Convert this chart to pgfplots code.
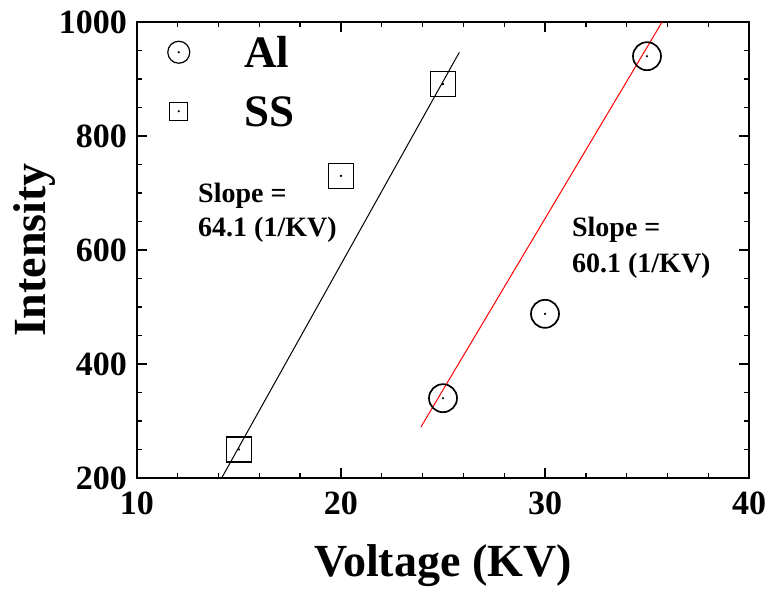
\documentclass[border=0pt]{standalone}
\usepackage{fontspec}
\setmainfont{Liberation Serif}
\usepackage{pgfplots}
\pgfplotsset{compat=1.18}
\begin{document}
\begin{tikzpicture}
\begin{axis}[
  scale only axis, width=612bp, height=456bp,
  xmin=10, xmax=40, ymin=200, ymax=1000,
  xtick={10,20,30,40}, ytick={200,400,600,800,1000},
  minor x tick num=4, minor y tick num=3,
  tick align=inside,
  major tick length=10bp, minor tick length=5bp,
  every tick/.style={black, line width=1.4bp},
  axis line style={line width=2bp},
  /pgf/number format/assume math mode=true,
  /pgf/number format/1000 sep={},
  scaled ticks=false,
  tick label style={font=\fontsize{34bp}{37bp}\selectfont\bfseries, inner sep=0pt},
  xticklabel style={anchor=north, yshift=-14bp},
  yticklabel style={anchor=east, xshift=-10bp},
  xlabel={Voltage (KV)}, ylabel={Intensity},
  label style={font=\fontsize{46bp}{50bp}\selectfont\bfseries},
  xlabel style={at={(axis description cs:0.5,-0.2171)}, anchor=base},
  ylabel style={at={(axis description cs:-0.1503,0.5)}, anchor=base},
  legend style={draw=none, fill=none, at={(axis description cs:0.049,0.967)},
    anchor=north west, inner xsep=0pt, inner ysep=0pt,
    row sep=29bp, column sep=54bp,
    font=\fontsize{45bp}{50bp}\selectfont\bfseries,
    nodes={inner sep=0pt, text height=30bp, text depth=0bp}},
  legend cell align=left,
  clip=false,
]
% legend symbols
\addlegendimage{legend image code/.code={
  \draw[black, line width=1.2bp] (0bp,0bp) circle[radius=11bp];
  \fill[black] (0bp,0bp) circle[radius=0.8bp];}}
\addlegendimage{legend image code/.code={
  \draw[black, line width=1.2bp] (-9bp,-9bp) rectangle (9bp,9bp);
  \fill[black] (0bp,0bp) circle[radius=0.8bp];}}
\legend{Al, SS}

% linear fits
\addplot[forget plot, black, line width=1bp] coordinates {(14.15,200) (25.8,946.8)};
\addplot[forget plot, red, line width=1bp] coordinates {(23.92,289.6) (35.74,1000)};

% Al
\addplot[forget plot, only marks, mark=o, mark size=14bp, mark options={black, line width=1.7bp}]
  coordinates {(25,340) (30,488) (35,940)};
\addplot[forget plot, only marks, mark=*, mark size=0.9bp, mark options={black}]
  coordinates {(25,340) (30,488) (35,940)};
% SS
\addplot[forget plot, only marks, mark=square, mark size=12.5bp, mark options={black, line width=1.7bp}]
  coordinates {(15,250) (20,730) (25,891)};
\addplot[forget plot, only marks, mark=*, mark size=0.9bp, mark options={black}]
  coordinates {(15,250) (20,730) (25,891)};

% slope annotations
\node[anchor=base west, font=\fontsize{28bp}{34bp}\selectfont\bfseries, inner sep=0pt]
  at (axis cs:12.99,684) {Slope =};
\node[anchor=base west, font=\fontsize{28bp}{34bp}\selectfont\bfseries, inner sep=0pt]
  at (axis cs:12.99,623) {64.1 (1/KV)};
\node[anchor=base west, font=\fontsize{28bp}{34bp}\selectfont\bfseries, inner sep=0pt]
  at (axis cs:31.32,623) {Slope =};
\node[anchor=base west, font=\fontsize{28bp}{34bp}\selectfont\bfseries, inner sep=0pt]
  at (axis cs:31.32,560) {60.1 (1/KV)};
\end{axis}
\path ([xshift=-137bp,yshift=-110bp]current axis.south west)
  rectangle ([xshift=20bp,yshift=22bp]current axis.north east);
\end{tikzpicture}
\end{document}
